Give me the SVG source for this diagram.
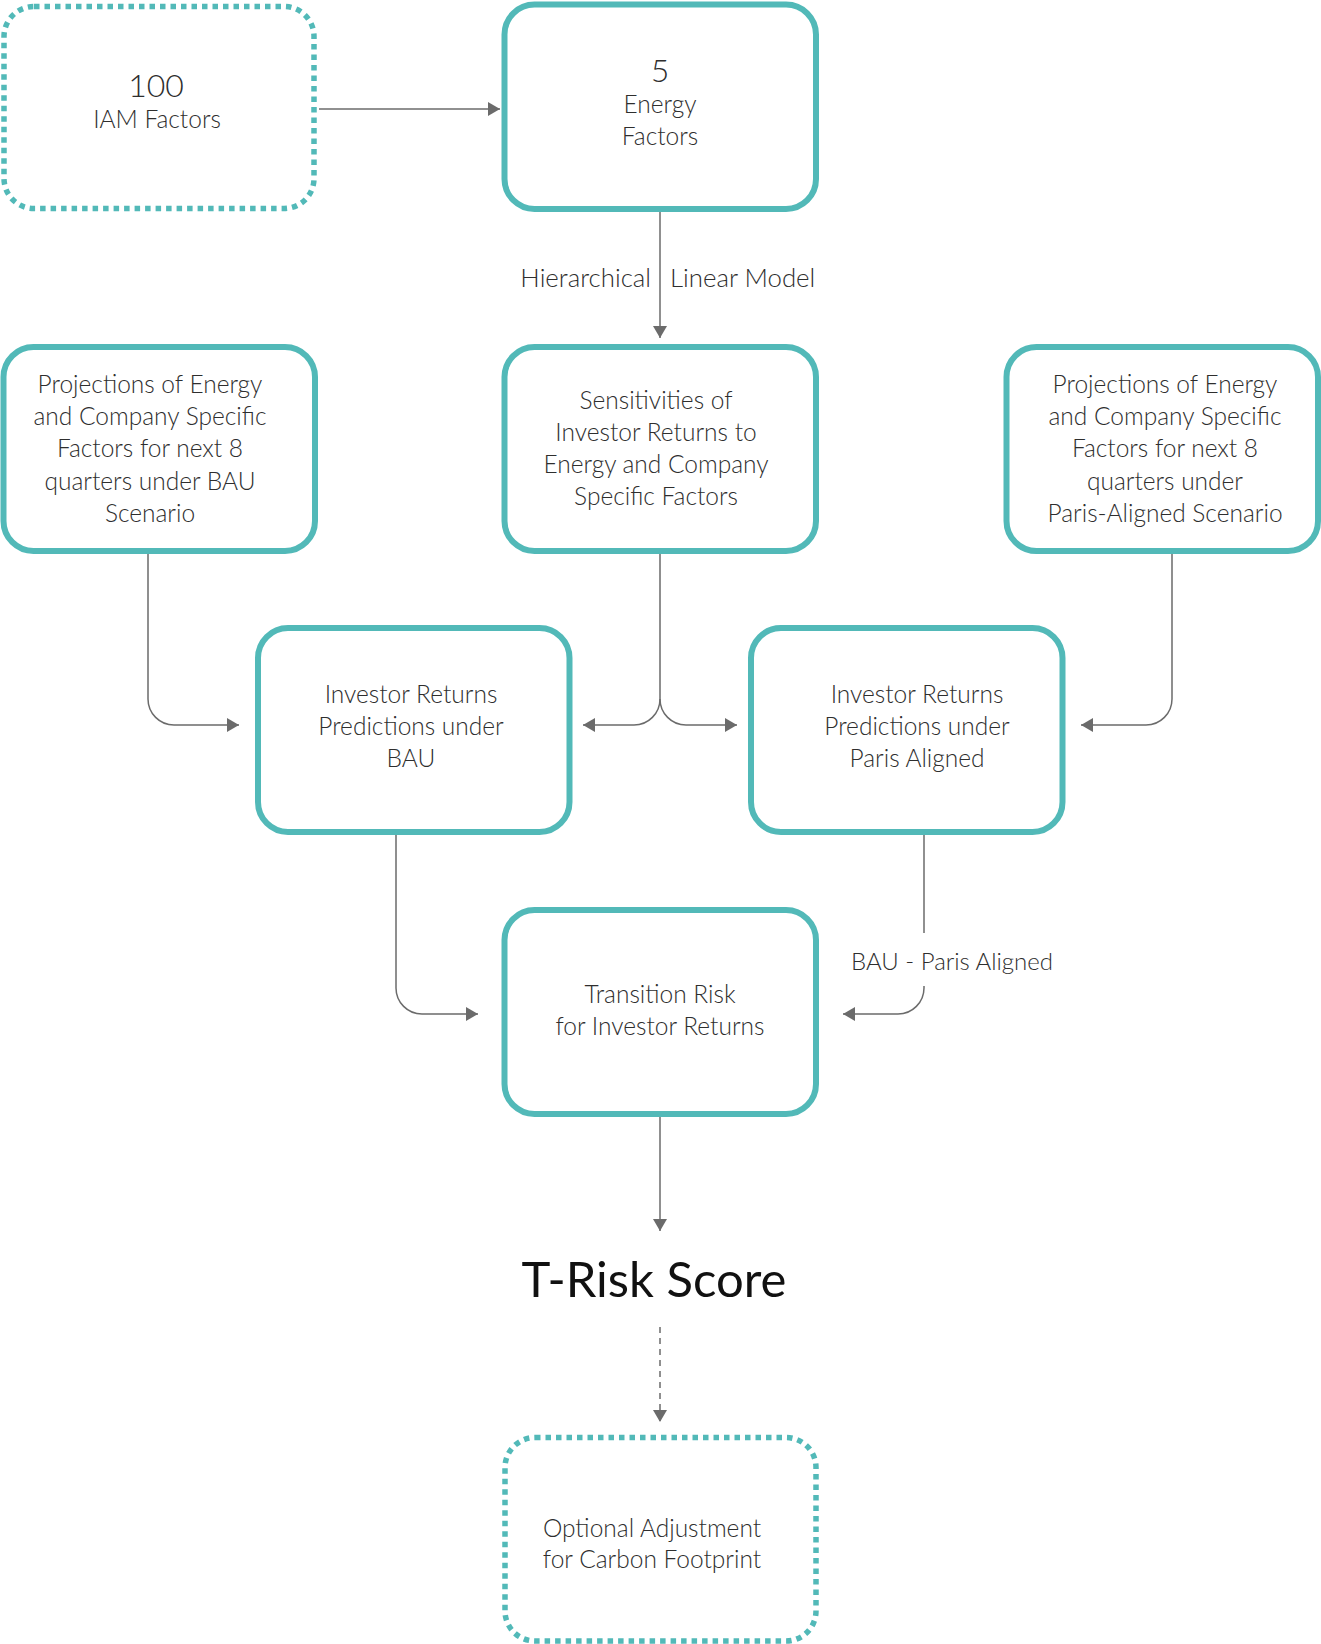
<svg xmlns="http://www.w3.org/2000/svg" width="1321" height="1644" viewBox="0 0 1321 1644">
<defs>
<style>
.box{fill:#fff;stroke:#52b9b8;stroke-width:6}
.dot{fill:#fff;stroke:#52b9b8;stroke-width:5.5;stroke-dasharray:5.5 5}
.t{font-family:"Lato","Open Sans","Liberation Sans",sans-serif;font-weight:300;font-size:24.5px;fill:#2e2e2e;text-anchor:middle}
.big{font-size:32px}
.lbl{font-family:"Lato","Open Sans","Liberation Sans",sans-serif;font-weight:300;font-size:25.8px;fill:#2e2e2e}
.lbl2{font-family:"Lato","Open Sans","Liberation Sans",sans-serif;font-weight:300;font-size:24px;fill:#2e2e2e;text-anchor:middle}
.title{font-family:"Lato","Open Sans","Liberation Sans",sans-serif;font-weight:400;font-size:49px;fill:#111;text-anchor:middle}
.c{fill:none;stroke:#6b6b6b;stroke-width:1.5}
.dash{stroke-dasharray:6 5}
</style>
<marker id="ah" markerUnits="userSpaceOnUse" markerWidth="12" markerHeight="14" refX="12" refY="7" orient="auto">
<path d="M0,0 L12,7 L0,14 Z" fill="#6b6b6b"/>
</marker>
</defs>
<rect width="1321" height="1644" fill="#fff"/>

<g id="connectors">
<path class="c" d="M319,109 H500" marker-end="url(#ah)"/>
<path class="c" d="M660,212 V338" marker-end="url(#ah)"/>
<path class="c" d="M148,554 V699 A26,26 0 0 0 174,725 H239" marker-end="url(#ah)"/>
<path class="c" d="M660,554 V699 A26,26 0 0 1 634,725 H583" marker-end="url(#ah)"/>
<path class="c" d="M660,699 A26,26 0 0 0 686,725 H737" marker-end="url(#ah)"/>
<path class="c" d="M1172,554 V699 A26,26 0 0 1 1146,725 H1081" marker-end="url(#ah)"/>
<path class="c" d="M396,835 V988 A26,26 0 0 0 422,1014 H478" marker-end="url(#ah)"/>
<path class="c" d="M924,835 V933"/>
<path class="c" d="M924,986 V988 A26,26 0 0 1 898,1014 H843" marker-end="url(#ah)"/>
<path class="c" d="M660,1117 V1231" marker-end="url(#ah)"/>
<path class="c dash" d="M660,1327 V1422" marker-end="url(#ah)"/>
<text class="lbl" x="651" y="287" text-anchor="end">Hierarchical</text>
<text class="lbl" x="670" y="287">Linear Model</text>
<text class="lbl2" x="952" y="970">BAU - Paris Aligned</text>
</g>

<g id="iam">
<rect class="dot" x="4" y="6.5" width="310" height="202" rx="30"/>
<text class="t big" x="156" y="97">100</text>
<text class="t" x="157" y="128">IAM Factors</text>
</g>

<g id="energy">
<rect class="box" x="504.5" y="4.5" width="311.5" height="204.5" rx="30"/>
<text class="t big" x="660" y="82">5</text>
<text class="t" x="660" y="113">Energy</text>
<text class="t" x="660" y="145">Factors</text>
</g>

<g id="proj-bau">
<rect class="box" x="3.5" y="347" width="311.5" height="204" rx="30"/>
<text class="t" x="150" y="393">Projections of Energy</text>
<text class="t" x="150" y="425">and Company Specific</text>
<text class="t" x="150" y="457">Factors for next 8</text>
<text class="t" x="150" y="490">quarters under BAU</text>
<text class="t" x="150" y="522">Scenario</text>
</g>

<g id="sensitivities">
<rect class="box" x="504.5" y="347" width="311.5" height="204" rx="30"/>
<text class="t" x="656" y="409">Sensitivities of</text>
<text class="t" x="656" y="441">Investor Returns to</text>
<text class="t" x="656" y="473">Energy and Company</text>
<text class="t" x="656" y="505">Specific Factors</text>
</g>

<g id="proj-paris">
<rect class="box" x="1006.5" y="347" width="311.5" height="204" rx="30"/>
<text class="t" x="1165" y="393">Projections of Energy</text>
<text class="t" x="1165" y="425">and Company Specific</text>
<text class="t" x="1165" y="457">Factors for next 8</text>
<text class="t" x="1165" y="490">quarters under</text>
<text class="t" x="1165" y="522">Paris-Aligned Scenario</text>
</g>

<g id="ir-bau">
<rect class="box" x="258" y="628" width="311.5" height="204" rx="30"/>
<text class="t" x="411" y="703">Investor Returns</text>
<text class="t" x="411" y="735">Predictions under</text>
<text class="t" x="411" y="767">BAU</text>
</g>

<g id="ir-paris">
<rect class="box" x="751" y="628" width="311.5" height="204" rx="30"/>
<text class="t" x="917" y="703">Investor Returns</text>
<text class="t" x="917" y="735">Predictions under</text>
<text class="t" x="917" y="767">Paris Aligned</text>
</g>

<g id="transition">
<rect class="box" x="504.5" y="910" width="311.5" height="204" rx="30"/>
<text class="t" x="660" y="1003">Transition Risk</text>
<text class="t" x="660" y="1035">for Investor Returns</text>
</g>

<g id="score">
<text class="title" x="654" y="1297">T-Risk Score</text>
</g>

<g id="optional">
<rect class="dot" x="505" y="1437.5" width="311" height="203.5" rx="30"/>
<text class="t" x="652" y="1537">Optional Adjustment</text>
<text class="t" x="652" y="1568">for Carbon Footprint</text>
</g>
</svg>
